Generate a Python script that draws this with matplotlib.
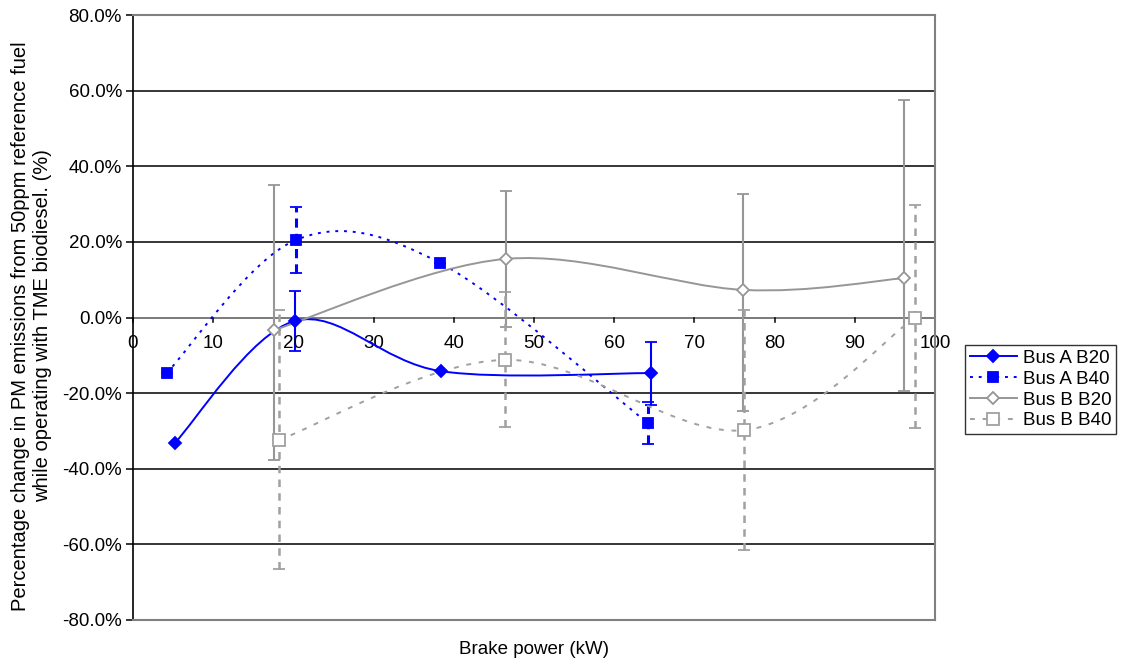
import matplotlib.pyplot as plt
import numpy as np
from matplotlib.path import Path
from matplotlib.patches import PathPatch
from matplotlib.lines import Line2D
from matplotlib.ticker import FuncFormatter, MultipleLocator

plt.rcParams['font.family'] = ['Liberation Sans', 'DejaVu Sans']

# data (x = kW, y = % change)
a20_x = [5.2, 20.2, 38.4, 64.6]
a20_y = [-33.2, -0.9, -14.2, -14.7]
a20_lo = [0, 8.0, 0, 8.4]
a20_hi = [0, 8.0, 0, 8.3]

a40_x = [4.2, 20.3, 38.3, 64.2]
a40_y = [-14.7, 20.5, 14.4, -27.9]
a40_lo = [0, 8.6, 0, 5.6]
a40_hi = [0, 8.8, 0, 5.6]

b20_x = [17.6, 46.5, 76.1, 96.1]
b20_y = [-3.3, 15.5, 7.3, 10.4]
b20_lo = [34.4, 17.9, 32.0, 29.8]
b20_hi = [38.4, 18.0, 25.3, 47.0]

b40_x = [18.2, 46.4, 76.2, 97.5]
b40_y = [-32.4, -11.2, -29.8, 0.0]
b40_lo = [34.1, 17.7, 31.7, 29.3]
b40_hi = [34.4, 18.0, 31.8, 29.8]

labels = ['Bus A B20', 'Bus A B40', 'Bus B B20', 'Bus B B40']

blue = '#0000FF'
gray = '#969696'
fs = 13.5


def smooth_path(xs, ys):
    # Excel-like smoothed line: cubic bezier through the points
    p = np.column_stack([xs, ys]).astype(float)
    n = len(p)
    verts = [p[0]]
    codes = [Path.MOVETO]
    for i in range(n - 1):
        p0 = p[i - 1] if i > 0 else p[i]
        p3 = p[i + 2] if i + 2 < n else p[i + 1]
        c1 = p[i] + (p[i + 1] - p0) / 6
        c2 = p[i + 1] - (p3 - p[i]) / 6
        verts += [c1, c2, p[i + 1]]
        codes += [Path.CURVE4] * 3
    return Path(verts, codes)


fig = plt.figure(figsize=(11.25, 6.64), dpi=100)
ax = fig.add_axes([133 / 1125, 1 - 620 / 664, 802 / 1125, 605 / 664])

ax.set_xlim(0, 100)
ax.set_ylim(-80, 80)

for yv in range(-60, 80, 20):
    if yv != 0:
        ax.axhline(yv, color='black', lw=1.1, zorder=1)
ax.axhline(0, color='#707070', lw=1.3, zorder=1)

series = [
    (a20_x, a20_y, a20_lo, a20_hi, blue, '-', 'D', blue, 6, '-', 1.5),
    (a40_x, a40_y, a40_lo, a40_hi, blue, (0, (1.5, 3)), 's', blue, 7, (0, (3, 2)), 2.2),
    (b20_x, b20_y, b20_lo, b20_hi, gray, '-', 'D', 'white', 6.5, '-', 1.5),
    (b40_x, b40_y, b40_lo, b40_hi, '#a0a0a0', (0, (2.5, 4)), 's', 'white', 8, (0, (3, 2.5)), 1.8),
]

handles = []
for xs, ys, lo, hi, col, ls, mk, mfc, ms, els, elw in series:
    patch = PathPatch(smooth_path(xs, ys), fill=False, edgecolor=col, lw=1.4,
                      linestyle=ls, zorder=3)
    ax.add_patch(patch)
    eb = ax.errorbar(xs, ys, yerr=[lo, hi], fmt='none', ecolor=col,
                     elinewidth=elw, capsize=4, capthick=1.3, zorder=2)
    for lc in eb[2]:
        lc.set_linestyle(els)
    ax.plot(xs, ys, linestyle='none', marker=mk, ms=ms, mfc=mfc, mec=col,
            mew=1.3, zorder=4, clip_on=False)
    handles.append(Line2D([], [], color=col, linestyle=ls, lw=1.4, marker=mk,
                          ms=ms, mfc=mfc, mec=col, mew=1.3))

# axes styling
for s in ['top', 'right', 'bottom']:
    ax.spines[s].set_color('#808080')
    ax.spines[s].set_linewidth(1.5)
ax.spines['left'].set_color('black')
ax.spines['left'].set_linewidth(1.2)

ax.yaxis.set_major_locator(MultipleLocator(20))
ax.yaxis.set_major_formatter(FuncFormatter(lambda v, p: '%.1f%%' % v))
ax.tick_params(axis='y', direction='out', length=5, width=1.1, labelsize=fs, pad=3)

ax.xaxis.set_major_locator(MultipleLocator(10))
ax.tick_params(axis='x', bottom=False, labelbottom=False)
for xv in range(0, 101, 10):
    ax.plot([xv, xv], [0, -1.2], color='black', lw=1.1, zorder=2, clip_on=False)
    ax.text(xv, -4.6, str(xv), ha='center', va='top', fontsize=fs, zorder=2)

fig.text(534 / 1125, 1 - 650 / 664, 'Brake power (kW)', ha='center', va='center', fontsize=fs)
fig.text(32 / 1125, 1 - 326 / 664,
         'Percentage change in PM emissions from 50ppm reference fuel\n'
         'while operating with TME biodiesel. (%)', rotation=90, ha='center',
         va='center', fontsize=14.5, linespacing=1.2, multialignment='center')

leg = fig.legend(handles, labels, loc='upper left', bbox_to_anchor=(965 / 1125, 1 - 345 / 664),
                 frameon=True, fancybox=False, edgecolor='black', fontsize=fs,
                 handlelength=2.5, handletextpad=0.35, borderpad=0.25, labelspacing=0.2,
                 borderaxespad=0)
leg.get_frame().set_linewidth(1.0)

fig.savefig('out.png', dpi=100)
